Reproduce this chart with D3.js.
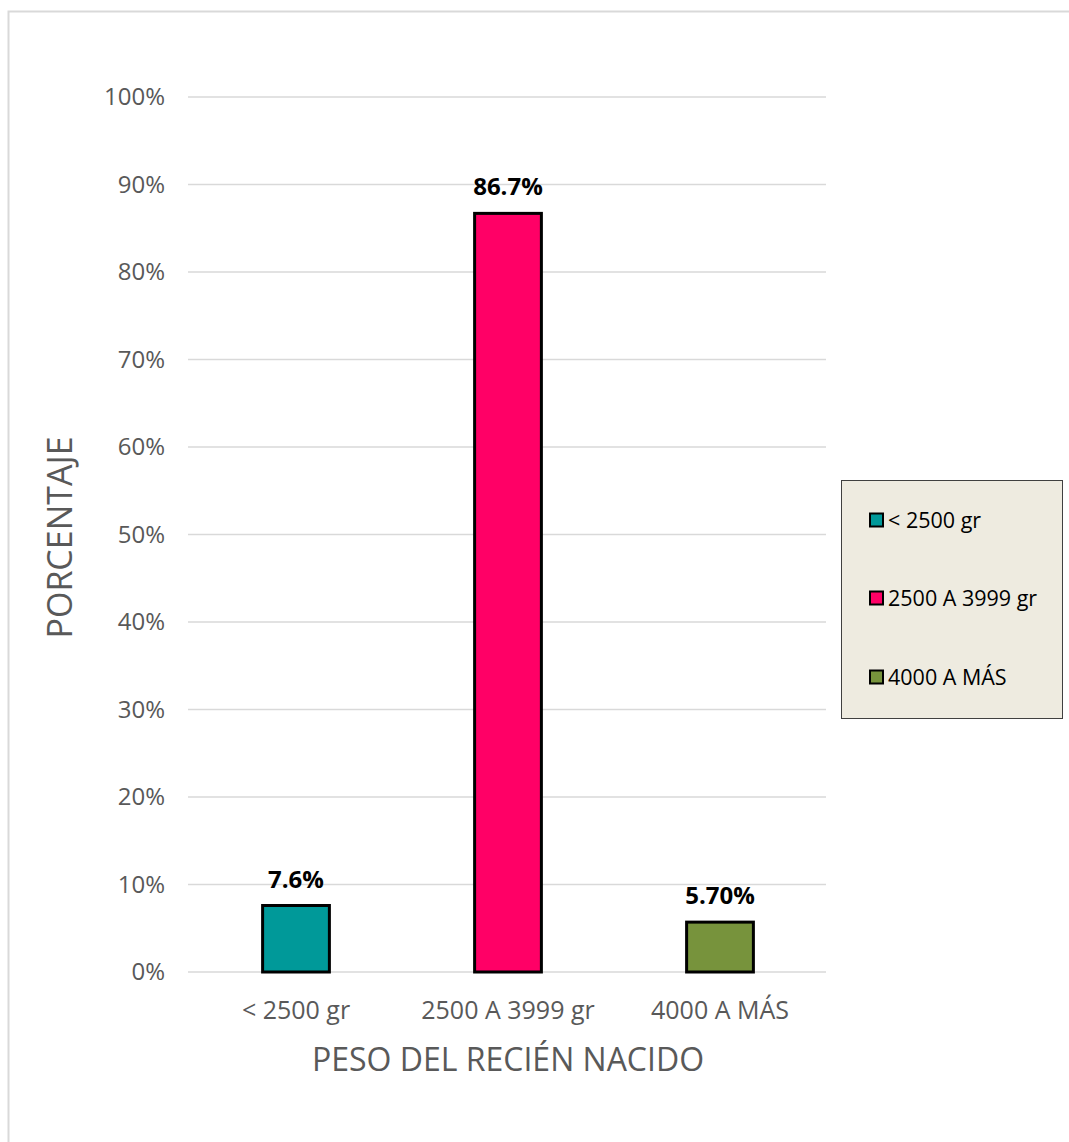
<!DOCTYPE html>
<html><head><meta charset="utf-8">
<script src="https://cdn.jsdelivr.net/npm/d3@7"></script>
<style>body{margin:0;background:#fff}svg{display:block}</style>
</head><body>
<script>
const categories = ["< 2500 gr", "2500 A 3999 gr", "4000 A MÁS"];
const values = [7.6, 86.7, 5.7];
const valueLabels = ["7.6%", "86.7%", "5.70%"];
const colors = ["#009999", "#FF0066", "#77933C"];
const yTicks = [0,10,20,30,40,50,60,70,80,90,100];
const xTitle = "PESO DEL RECIÉN NACIDO";
const yTitle = "PORCENTAJE";

const W = 1069, H = 1142;
const font = "'Open Sans', sans-serif";
const svg = d3.select("body").append("svg").attr("width", W).attr("height", H);
svg.append("rect").attr("x", 8.5).attr("y", 11.5).attr("width", W + 20).attr("height", H + 20)
  .attr("fill", "#fff").attr("stroke", "#d9d9d9").attr("stroke-width", 2);

const x0 = 190, x1 = 826, y0 = 972, y1 = 97;
const x = d3.scaleBand().domain(categories).range([x0, x1]).paddingInner(0.685).paddingOuter(0.3425);
const y = d3.scaleLinear().domain([0, 100]).range([y0, y1]);

const g = svg.append("g");
g.selectAll("line.grid").data(yTicks).join("line")
  .attr("x1", 188).attr("x2", x1).attr("y1", d => y(d)).attr("y2", d => y(d))
  .attr("stroke", "#d9d9d9").attr("stroke-width", 1.3);

const yAxis = g.append("g").attr("transform", `translate(188,0)`)
  .call(d3.axisLeft(y).tickValues(yTicks).tickFormat(d => d + "%").tickSize(0).tickPadding(23));
yAxis.select(".domain").remove();
yAxis.selectAll("text").attr("font-family", font).attr("font-size", 24).attr("fill", "#595959");

g.selectAll("rect.bar").data(values).join("rect")
  .attr("x", (d, i) => x(categories[i])).attr("width", x.bandwidth())
  .attr("y", d => y(d)).attr("height", d => y0 - y(d))
  .attr("fill", (d, i) => colors[i]).attr("stroke", "#000").attr("stroke-width", 3);

g.selectAll("text.vl").data(values).join("text")
  .attr("x", (d, i) => x(categories[i]) + x.bandwidth() / 2).attr("y", d => y(d) - 18)
  .attr("text-anchor", "middle").attr("font-family", font).attr("font-weight", "bold")
  .attr("font-size", 24).attr("fill", "#000").text((d, i) => valueLabels[i]);

const xAxis = g.append("g").attr("transform", `translate(0,${y0})`)
  .call(d3.axisBottom(x).tickSize(0).tickPadding(29));
xAxis.select(".domain").remove();
xAxis.selectAll("text").attr("font-family", font).attr("font-size", 25).attr("fill", "#595959").attr("dy", "0.71em");

svg.append("text").attr("x", 508).attr("y", 1071).attr("text-anchor", "middle")
  .attr("font-family", font).attr("font-size", 32).attr("fill", "#595959").text(xTitle);
svg.append("text").attr("transform", `translate(72,${(y0 + y1) / 2 + 3}) rotate(-90)`)
  .attr("text-anchor", "middle").attr("font-family", font).attr("font-size", 34)
  .attr("fill", "#595959").text(yTitle);

const leg = svg.append("g");
leg.append("rect").attr("x", 841.5).attr("y", 480.5).attr("width", 221).attr("height", 238)
  .attr("fill", "#EEEBE0").attr("stroke", "#404040").attr("stroke-width", 1);
const legY = [520, 598, 677];
categories.forEach((c, i) => {
  leg.append("rect").attr("x", 870).attr("y", legY[i] - 6.5).attr("width", 13).attr("height", 13)
    .attr("fill", colors[i]).attr("stroke", "#000").attr("stroke-width", 2);
  leg.append("text").attr("x", 888).attr("y", legY[i]).attr("dy", "0.35em")
    .attr("font-family", font).attr("font-size", 21.5).attr("fill", "#000").text(c);
});
</script>
</body></html>
